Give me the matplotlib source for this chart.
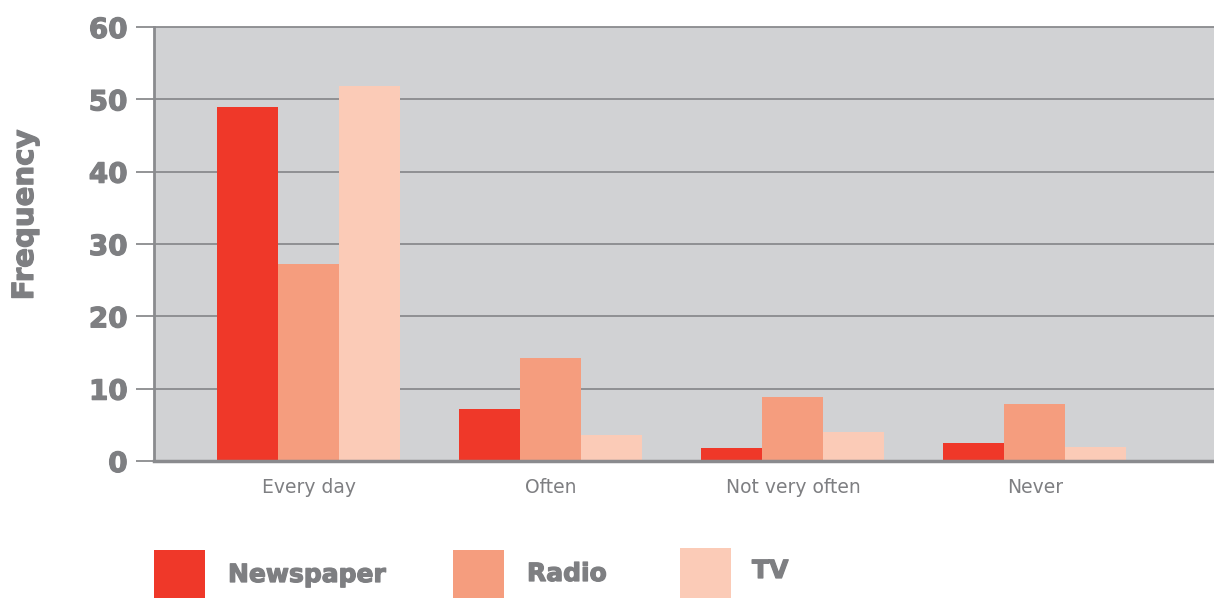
import matplotlib
matplotlib.use("Agg")
import matplotlib.pyplot as plt
import matplotlib.patheffects as pe
from matplotlib.patches import Rectangle
import numpy as np

# Datos
categorias = ["Every day", "Often", "Not very often", "Never"]
newspaper = [49, 7.2, 1.8, 2.5]
radio = [27.2, 14.2, 8.9, 7.9]
tv = [51.8, 3.6, 4.0, 1.9]
series = ["Newspaper", "Radio", "TV"]
colores = ["#EF3829", "#F59D7E", "#FBCBB7"]
yticks = [0, 10, 20, 30, 40, 50, 60]

gris_texto = "#7E7F82"
gris_linea = "#8A8B8E"
grueso = [pe.withStroke(linewidth=0.9, foreground=gris_texto)]

W, H = 1214, 598
fig = plt.figure(figsize=(W / 100, H / 100), dpi=100)
ax = fig.add_axes([154 / W, 1 - 461 / H, 1 - 154 / W, (461 - 27) / H])
ax.set_facecolor("#D1D2D4")

x = np.arange(len(categorias))
ancho = 0.252
for i, (vals, col) in enumerate(zip([newspaper, radio, tv], colores)):
    ax.bar(x + (i - 1) * ancho, vals, ancho, color=col, zorder=3, linewidth=0)

ax.set_xlim(-0.64, 3.74)
ax.set_ylim(0, 60)

# rejilla
for v in yticks[1:]:
    ax.axhline(v, color=gris_linea, lw=1.3, zorder=2, clip_on=False)

for s in ["top", "right"]:
    ax.spines[s].set_visible(False)
ax.spines["left"].set_color(gris_linea)
ax.spines["left"].set_linewidth(2.0)
ax.spines["bottom"].set_color(gris_linea)
ax.spines["bottom"].set_linewidth(2.5)
ax.spines["bottom"].set_zorder(4)

ax.set_yticks(yticks)
ax.set_yticklabels([str(v) for v in yticks], fontsize=20, fontweight="bold",
                   color=gris_texto, family="DejaVu Sans")
for t in ax.get_yticklabels():
    t.set_path_effects(grueso)
ax.tick_params(axis="y", length=13, width=1.3, color=gris_linea, pad=6)

ax.set_xticks(x)
ax.set_xticklabels(categorias, fontsize=13.5, color=gris_texto, family="DejaVu Sans")
ax.tick_params(axis="x", length=0, pad=12)

fig.text(25 / W, 1 - 215 / H, "Frequency", rotation=90, fontsize=21,
         fontweight="bold", color=gris_texto, ha="center", va="center",
         path_effects=grueso)

# leyenda
leyenda = [(154, 228, 575), (453, 527, 574), (680, 752, 571)]
for (px, tx, ty), nombre, col in zip(leyenda, series, colores):
    y0 = 550 if nombre != "TV" else 548
    fig.add_artist(Rectangle((px / W, 0), 51 / W, 1 - y0 / H,
                             transform=fig.transFigure, color=col, lw=0))
    fig.text(tx / W, 1 - ty / H, nombre, fontsize=18, fontweight="bold",
             color=gris_texto, ha="left", va="center", path_effects=grueso)

fig.savefig("out.png", dpi=100)
